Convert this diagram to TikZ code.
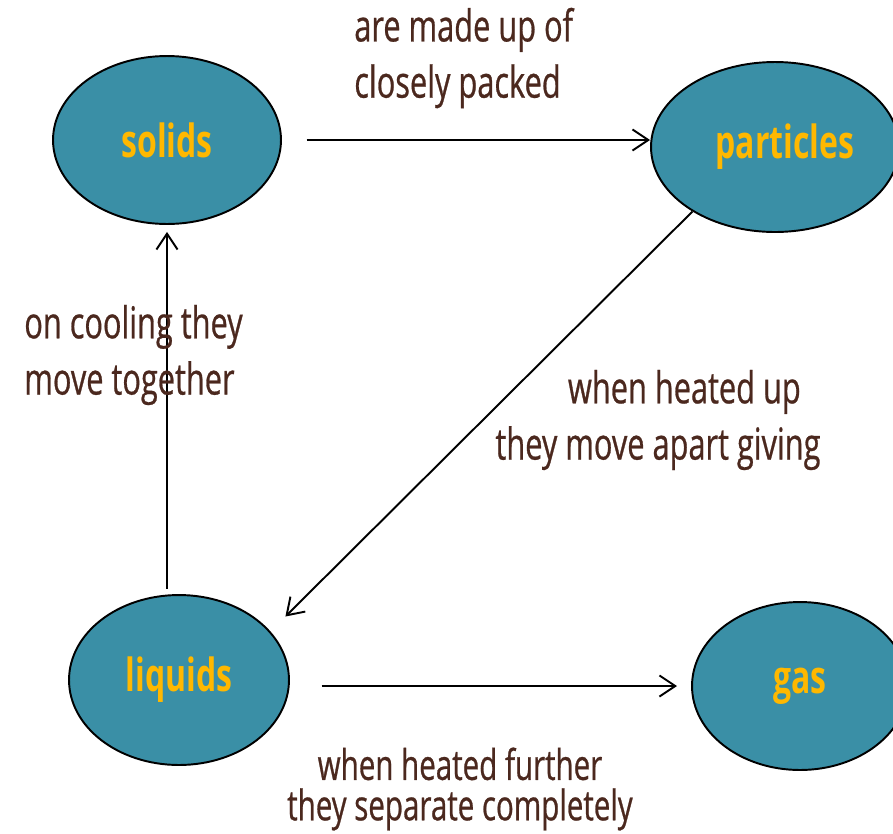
\documentclass[tikz,border=0pt]{standalone}
\usepackage{fontspec}
\setmainfont[FakeStretch=0.7]{Open Sans}
\usepackage{tikz}
\usetikzlibrary{arrows.meta,shapes.geometric}

\definecolor{teal}{RGB}{58,143,166}
\definecolor{amber}{RGB}{255,184,0}
\definecolor{brownish}{RGB}{75,40,30}

\tikzset{
    state/.style={ellipse, draw=black, line width=1.1pt, fill=teal, inner sep=0pt,
        text=amber, font=\fontsize{26}{28}\selectfont\bfseries},
    link/.style={line width=1.1pt, -{Straight Barb[length=9pt,width=12pt,line width=1.1pt]}},
    lbl/.style={text=brownish, inner sep=0pt, font=\addfontfeature{FakeBold=0.6}\fontsize{25}{32}\selectfont}
}

\begin{document}
\begin{tikzpicture}[x=0.02cm,y=-0.02cm]
    \useasboundingbox (0,0) rectangle (893,833);
    % --- STATES ---
    \node[state, minimum width=4.56cm, minimum height=3.36cm] (solids) at (167,140) {solids};
    \node[state, minimum width=4.96cm, minimum height=3.4cm] (particles) at (775,147) {\hspace*{0.4cm}particles};
    \node[state, minimum width=4.4cm, minimum height=3.4cm] (liquids) at (179,680) {liquids};
    \node[state, minimum width=4.32cm, minimum height=3.36cm] (gas) at (800,686) {gas};

    % --- LINKS ---
    \draw[link, shorten <=14pt] (solids.east) -- (solids.east -| particles.west);
    \draw[link, shorten <=3pt, shorten >=4pt] (liquids.north -| solids.south) -- (solids.south);
    \draw[link, shorten >=12pt] (particles.218) -- (liquids.28);
    \draw[link, shorten <=18pt, shorten >=8pt] (gas.west -| liquids.east) -- (gas.west);

    % --- LABELS ---
    \node[lbl, align=left, anchor=west] (made) at (354,58) {are made up of\\closely packed};
    \node[lbl, align=left, anchor=west] (cool) at (24,355) {on cooling they\\move together};
    \node[lbl, align=center] (heat) at (658,420) {\hspace*{1.2em}when heated up\\they move apart giving};
    \node[lbl, align=center, font=\addfontfeature{FakeBold=0.6}\fontsize{24}{23}\selectfont] (further) at (460,789) {when heated further\\they separate completely};
\end{tikzpicture}
\end{document}
